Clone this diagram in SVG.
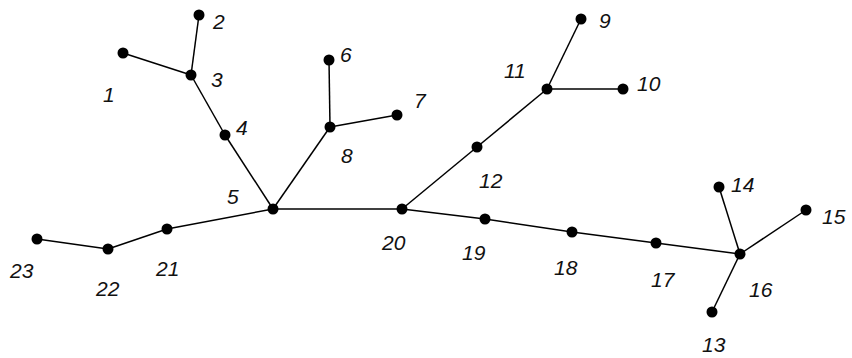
<svg xmlns="http://www.w3.org/2000/svg" width="852" height="358" viewBox="0 0 852 358">
<style>
.e{stroke:#000;stroke-width:1.5;fill:none}
.n{fill:#000}
.l{font-family:"Liberation Sans",Arial,sans-serif;font-size:21px;font-style:italic;fill:#111}
</style>
<rect width="852" height="358" fill="#fff"/>
<g id="connectors">
<line class="e" x1="123" y1="53" x2="191" y2="75"/>
<line class="e" x1="199" y1="15" x2="191" y2="75"/>
<line class="e" x1="191" y1="75" x2="225" y2="135"/>
<line class="e" x1="225" y1="135" x2="273" y2="209"/>
<line class="e" x1="273" y1="209" x2="330" y2="127"/>
<line class="e" x1="330" y1="127" x2="329" y2="60"/>
<line class="e" x1="330" y1="127" x2="397" y2="115"/>
<line class="e" x1="273" y1="209" x2="402" y2="209"/>
<line class="e" x1="273" y1="209" x2="167" y2="229"/>
<line class="e" x1="167" y1="229" x2="108" y2="249"/>
<line class="e" x1="108" y1="249" x2="37" y2="239"/>
<line class="e" x1="402" y1="209" x2="477" y2="147"/>
<line class="e" x1="477" y1="147" x2="547" y2="89"/>
<line class="e" x1="547" y1="89" x2="581" y2="19"/>
<line class="e" x1="547" y1="89" x2="623" y2="89"/>
<line class="e" x1="402" y1="209" x2="485" y2="219"/>
<line class="e" x1="485" y1="219" x2="572" y2="232"/>
<line class="e" x1="572" y1="232" x2="656" y2="243"/>
<line class="e" x1="656" y1="243" x2="740" y2="254"/>
<line class="e" x1="740" y1="254" x2="719" y2="187"/>
<line class="e" x1="740" y1="254" x2="806" y2="210"/>
<line class="e" x1="740" y1="254" x2="712" y2="312"/>
</g>
<g id="node1"><circle class="n" cx="123" cy="53" r="5.5"/><text class="l" x="103" y="102">1</text></g>
<g id="node2"><circle class="n" cx="199" cy="15" r="5.5"/><text class="l" x="213" y="29">2</text></g>
<g id="node3"><circle class="n" cx="191" cy="75" r="5.5"/><text class="l" x="211" y="87">3</text></g>
<g id="node4"><circle class="n" cx="225" cy="135" r="5.5"/><text class="l" x="236" y="135">4</text></g>
<g id="node5"><circle class="n" cx="273" cy="209" r="5.5"/><text class="l" x="227" y="204">5</text></g>
<g id="node6"><circle class="n" cx="329" cy="60" r="5.5"/><text class="l" x="340" y="62">6</text></g>
<g id="node7"><circle class="n" cx="397" cy="115" r="5.5"/><text class="l" x="414" y="108">7</text></g>
<g id="node8"><circle class="n" cx="330" cy="127" r="5.5"/><text class="l" x="341" y="163">8</text></g>
<g id="node9"><circle class="n" cx="581" cy="19" r="5.5"/><text class="l" x="599" y="28">9</text></g>
<g id="node10"><circle class="n" cx="623" cy="89" r="5.5"/><text class="l" x="637" y="91">10</text></g>
<g id="node11"><circle class="n" cx="547" cy="89" r="5.5"/><text class="l" x="504" y="78">11</text></g>
<g id="node12"><circle class="n" cx="477" cy="147" r="5.5"/><text class="l" x="479" y="188">12</text></g>
<g id="node13"><circle class="n" cx="712" cy="312" r="5.5"/><text class="l" x="702" y="352">13</text></g>
<g id="node14"><circle class="n" cx="719" cy="187" r="5.5"/><text class="l" x="731" y="192">14</text></g>
<g id="node15"><circle class="n" cx="806" cy="210" r="5.5"/><text class="l" x="822" y="224">15</text></g>
<g id="node16"><circle class="n" cx="740" cy="254" r="5.5"/><text class="l" x="749" y="297">16</text></g>
<g id="node17"><circle class="n" cx="656" cy="243" r="5.5"/><text class="l" x="651" y="287">17</text></g>
<g id="node18"><circle class="n" cx="572" cy="232" r="5.5"/><text class="l" x="554" y="275">18</text></g>
<g id="node19"><circle class="n" cx="485" cy="219" r="5.5"/><text class="l" x="462" y="260">19</text></g>
<g id="node20"><circle class="n" cx="402" cy="209" r="5.5"/><text class="l" x="382" y="250">20</text></g>
<g id="node21"><circle class="n" cx="167" cy="229" r="5.5"/><text class="l" x="156" y="276">21</text></g>
<g id="node22"><circle class="n" cx="108" cy="249" r="5.5"/><text class="l" x="96" y="296">22</text></g>
<g id="node23"><circle class="n" cx="37" cy="239" r="5.5"/><text class="l" x="10" y="278">23</text></g>
</svg>
